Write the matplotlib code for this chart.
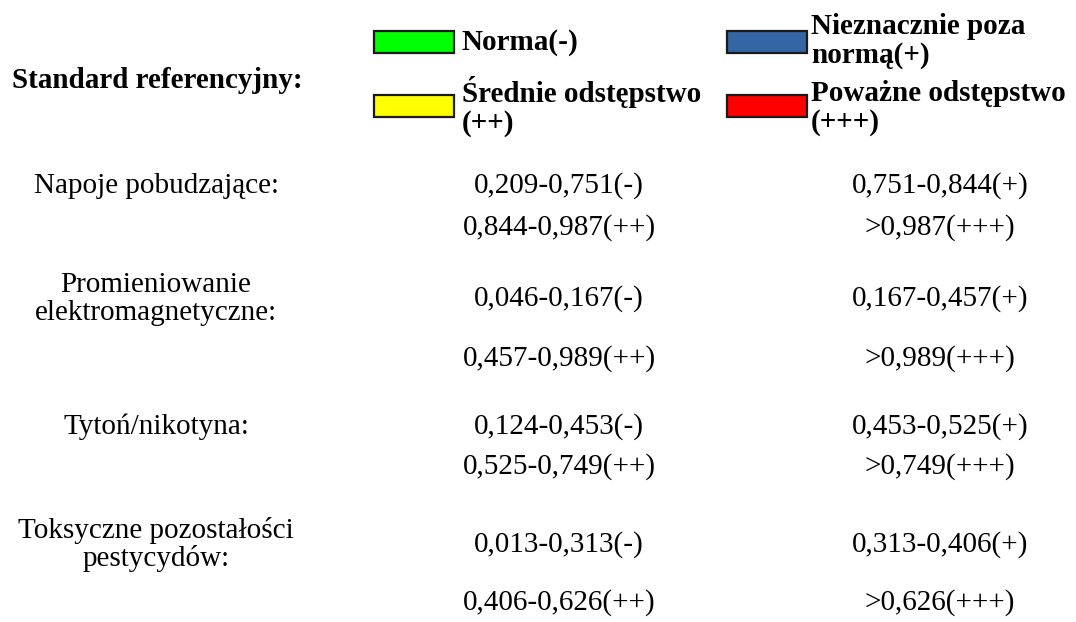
import matplotlib
matplotlib.use("Agg")
import matplotlib.pyplot as plt
from matplotlib.patches import Rectangle

# ---- data ----
title = "Standard referencyjny:"
legend_labels = [["Norma(-)"], ["Nieznacznie poza", "normą(+)"],
                 ["Średnie odstępstwo", "(++)"], ["Poważne odstępstwo", "(+++)"]]
legend_colors = ["#00ff00", "#3465a4", "#ffff00", "#ff0000"]
categories = [["Napoje pobudzające:"], ["Promieniowanie", "elektromagnetyczne:"],
              ["Tytoń/nikotyna:"], ["Toksyczne pozostałości", "pestycydów:"]]
norm_range = ["0,209-0,751", "0,046-0,167", "0,124-0,453", "0,013-0,313"]
slight_range = ["0,751-0,844", "0,167-0,457", "0,453-0,525", "0,313-0,406"]
medium_range = ["0,844-0,987", "0,457-0,989", "0,525-0,749", "0,406-0,626"]
severe_thr = ["0,987", "0,989", "0,749", "0,626"]

W, H = 1076, 622
fig = plt.figure(figsize=(W / 100, H / 100), dpi=100)
ax = fig.add_axes([0, 0, 1, 1])
ax.set_xlim(0, W)
ax.set_ylim(H, 0)
ax.axis("off")

serif = "Liberation Serif"
fs = 21
lh = 29  # line height in px for wrapped legend text

ax.text(157, 88, title, ha="center", va="baseline", fontsize=fs,
        fontweight="bold", family=serif)

# legend
rect_pos = [(374, 31), (727, 31), (374, 95), (727, 95)]
text_base = [(462, 50), (811, 34), (462, 102), (811, 101)]
for (rx, ry), (tx, ty), lines, col in zip(rect_pos, text_base, legend_labels, legend_colors):
    ax.add_patch(Rectangle((rx, ry), 80, 22, facecolor=col, edgecolor="#1a1a1a",
                           linewidth=1.6))
    for k, line in enumerate(lines):
        ax.text(tx, ty + k * lh, line, ha="left", va="baseline", fontsize=fs,
                fontweight="bold", family=serif)

# rows
row_top = [193, 306, 434, 552]
row_bot = [235, 366, 474, 610]
col1, col2, col3 = 156, 559, 940
for i, lines in enumerate(categories):
    n = len(lines)
    for k, line in enumerate(lines):
        y = row_top[i] + (k - (n - 1) / 2) * 28
        ax.text(col1, y, line, ha="center", va="baseline", fontsize=fs,
                family=serif)
    ax.text(col2, row_top[i], norm_range[i] + "(-)", ha="center", va="baseline",
            fontsize=fs, family=serif)
    ax.text(col3, row_top[i], slight_range[i] + "(+)", ha="center", va="baseline",
            fontsize=fs, family=serif)
    ax.text(col2, row_bot[i], medium_range[i] + "(++)", ha="center", va="baseline",
            fontsize=fs, family=serif)
    ax.text(col3, row_bot[i], ">" + severe_thr[i] + "(+++)", ha="center",
            va="baseline", fontsize=fs, family=serif)

fig.savefig("out.png", dpi=100, facecolor="white")
